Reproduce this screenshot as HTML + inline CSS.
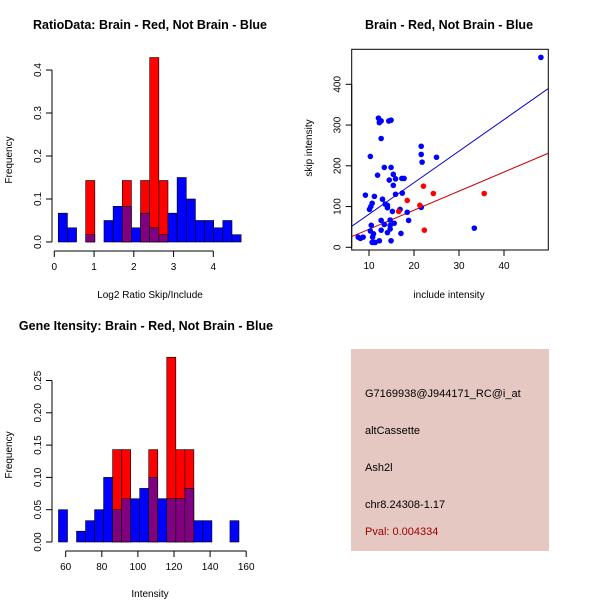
<!DOCTYPE html>
<html><head><meta charset="utf-8"><style>
body{margin:0;background:#fff}
svg{display:block;font-family:"Liberation Sans",sans-serif}
</style></head><body>
<svg id="s" width="600" height="600" viewBox="0 0 600 600">
<rect width="600" height="600" fill="#fff"/>
<text x="150" y="29" font-size="12.5" font-weight="bold" text-anchor="middle">RatioData: Brain - Red, Not Brain - Blue</text>
<text x="449" y="29" font-size="12.5" font-weight="bold" text-anchor="middle">Brain - Red, Not Brain - Blue</text>
<text x="146" y="330" font-size="12.5" font-weight="bold" text-anchor="middle">Gene Itensity: Brain - Red, Not Brain - Blue</text>
<text x="150" y="298" font-size="10" text-anchor="middle">Log2 Ratio Skip/Include</text>
<text transform="translate(12,160) rotate(-90)" font-size="10" text-anchor="middle">Frequency</text>
<text x="449" y="298" font-size="10" text-anchor="middle">include intensity</text>
<text transform="translate(312,148) rotate(-90)" font-size="10" text-anchor="middle">skip intensity</text>
<text x="150" y="597" font-size="10" text-anchor="middle">Intensity</text>
<text transform="translate(12,455) rotate(-90)" font-size="10" text-anchor="middle">Frequency</text>
<g>
<rect x="351" y="349" width="198" height="202" fill="#e5c8c2"/>
<text x="365" y="397" font-size="11">G7169938@J944171_RC@i_at</text>
<text x="365" y="434" font-size="11">altCassette</text>
<text x="365" y="471" font-size="11">Ash2l</text>
<text x="365" y="508" font-size="11">chr8.24308-1.17</text>
<text x="365" y="535" font-size="11" fill="#a00000">Pval: 0.004334</text>
</g>
</svg>
<script>
// Ratio histogram data
const ratioBreakStart = 0.1, ratioBinWidth = 0.23;
const ratioBlue = [0.067,0.033,0,0.017,0,0.05,0.083,0.083,0.033,0.067,0.033,0.017,0.067,0.15,0.1,0.05,0.05,0.033,0.05,0.017];
const ratioRed  = [0,0,0,0.143,0,0,0,0.143,0,0.143,0.429,0.143,0,0,0,0,0,0,0,0];
const ratioXTicks = [0,1,2,3,4];
const ratioYTicks = [0,0.1,0.2,0.3,0.4];
// Intensity histogram data
const intBreakStart = 56, intBinWidth = 5;
const intBlue = [0.05,0,0.0167,0.033,0.05,0.1,0.05,0.067,0.067,0.083,0.1,0.067,0.067,0.067,0.083,0.033,0.033,0,0,0.033];
const intRed  = [0,0,0,0,0,0,0.143,0.143,0,0,0.143,0,0.286,0.143,0.143,0,0,0,0,0];
const intXTicks = [60,80,100,120,140,160];
const intYTicks = [0,0.05,0.1,0.15,0.2,0.25];
const intYLabels = ["0.00","0.05","0.10","0.15","0.20","0.25"];
// Scatter data
const blueX = [48.2,12.1,12.7,12.3,12.7,14.4,14.9,10.3,11.9,13.4,14.9,15.4,14.5,15.4,15.9,15.9,17.3,17.8,17.4,21.6,21.6,21.8,25.0,9.2,11.2,13.0,10.7,10.4,10.1,13.6,14.1,14.1,15.2,16.9,18.5,21.6,10.5,12.7,13.4,14.7,15.6,18.8,14.7,14.7,12.7,14.1,17.1,10.3,11.0,10.8,11.0,10.7,11.4,12.3,14.9,7.6,8.1,8.7,33.4];
const blueY = [466,317,267,306,310,310,312,223,177,196,196,179,165,152,168,130,169,169,133,248,228,209,221,128,125,118,108,100,93,106,103,97,88,93,86,98,54,66,56,67,59,66,54,45,42,36,34,40,33,25,12,12,12,16,16,25,22,25,47];
const redX = [22.1,24.3,35.6,18.5,16.6,21.3,22.3];
const redY = [150,132,132,115,88,103,42];
const fitBlue = [3.8,7.74]; // intercept, slope
const fitRed = [-2.5,4.68];
const scatterXTicks = [10,20,30,40];
const scatterYTicks = [0,100,200,300,400];

const NS="http://www.w3.org/2000/svg";
const svg=document.getElementById('s');
function mk(tag,attrs,parent){const e=document.createElementNS(NS,tag);for(const k in attrs)e.setAttribute(k,attrs[k]);(parent||svg).appendChild(e);return e;}

function hist(blue,red,start,bw,sx,sy,prefix){
  const g=mk('g',{});
  
  
  for(let i=0;i<blue.length;i++){
    const x0=sx(start+i*bw), x1=sx(start+(i+1)*bw);
    const b=blue[i], r=red[i];
    const hi=Math.max(b,r), lo=Math.min(b,r);
    if(hi>0){
      const e=mk('rect',{x:x0,y:sy(hi),width:x1-x0,height:sy(0)-sy(hi),fill:r>b?'#ff0000':'#0000ff',stroke:'#000','stroke-width':0.6},g);
      
      
    }
    if(lo>0){
      const e=mk('rect',{x:x0,y:sy(lo),width:x1-x0,height:sy(0)-sy(lo),fill:'#800080',stroke:'#000','stroke-width':0.6},g);
      
      
    }
  }
}
function yaxis(ticks,labels,sy,x,prefix){
  mk('line',{x1:x,x2:x,y1:sy(ticks[0]),y2:sy(ticks[ticks.length-1]),stroke:'#000'});
  ticks.forEach((t,i)=>{
    mk('line',{x1:x-6,x2:x,y1:sy(t),y2:sy(t),stroke:'#000'});
    const e=mk('text',{transform:`translate(${x-11},${sy(t)}) rotate(-90)`,'font-size':10,'text-anchor':'middle'});
    e.textContent=labels[i];
    
    
  });
}
function xaxis(ticks,labels,sx,y,prefix){
  mk('line',{x1:sx(ticks[0]),x2:sx(ticks[ticks.length-1]),y1:y,y2:y,stroke:'#000'});
  ticks.forEach((t,i)=>{
    mk('line',{x1:sx(t),x2:sx(t),y1:y,y2:y+6,stroke:'#000'});
    const e=mk('text',{x:sx(t),y:y+19,'font-size':10,'text-anchor':'middle'});
    e.textContent=labels[i];
    
    
  });
}
// Ratio histogram
{
  const sx=v=>54.3+v*39.75, sy=v=>242-v*430;
  hist(ratioBlue,ratioRed,ratioBreakStart,ratioBinWidth,sx,sy,'ratio');
  yaxis(ratioYTicks,ratioYTicks.map(v=>v===0?'0.0':String(v)),sy,52,'ratio');
  xaxis(ratioXTicks,ratioXTicks.map(String),sx,251,'ratio');
}
// Intensity histogram
{
  const sx=v=>65.7+(v-60)*1.805, sy=v=>542-v*646;
  hist(intBlue,intRed,intBreakStart,intBinWidth,sx,sy,'intensity');
  yaxis(intYTicks,intYLabels,sy,52,'intensity');
  xaxis(intXTicks,intXTicks.map(String),sx,551,'intensity');
}
// Scatter
{
  const sx=v=>369+(v-10)*4.5, sy=v=>247.3-v*0.4075;
  mk('rect',{x:351.7,y:49.3,width:196.6,height:200.7,fill:'none',stroke:'#000'});
  yaxis(scatterYTicks,scatterYTicks.map(String),sy,351.7,'scatter');
  xaxis(scatterXTicks,scatterXTicks.map(String),sx,250,'scatter');
  const cp=mk('clipPath',{id:'cp'});mk('rect',{x:351.7,y:49.3,width:196.6,height:200.7},cp);
  const xa=(351.7-369)/4.5+10, xb=(548.3-369)/4.5+10;
  [[fitBlue,'#0000cc','blue-fit-line'],[fitRed,'#cc0000','red-fit-line']].forEach(([f,c,n])=>{
    const l=mk('line',{x1:sx(xa),y1:sy(f[0]+f[1]*xa),x2:sx(xb),y2:sy(f[0]+f[1]*xb),stroke:c,'clip-path':'url(#cp)'});
    
    
  });
  blueX.forEach((x,i)=>{
    const c=mk('circle',{cx:sx(x),cy:sy(blueY[i]),r:2.8,fill:'#0000ff'});
    
    
  });
  redX.forEach((x,i)=>{
    const c=mk('circle',{cx:sx(x),cy:sy(redY[i]),r:2.8,fill:'#ff0000'});
    
    
  });
}
</script>
</body></html>
